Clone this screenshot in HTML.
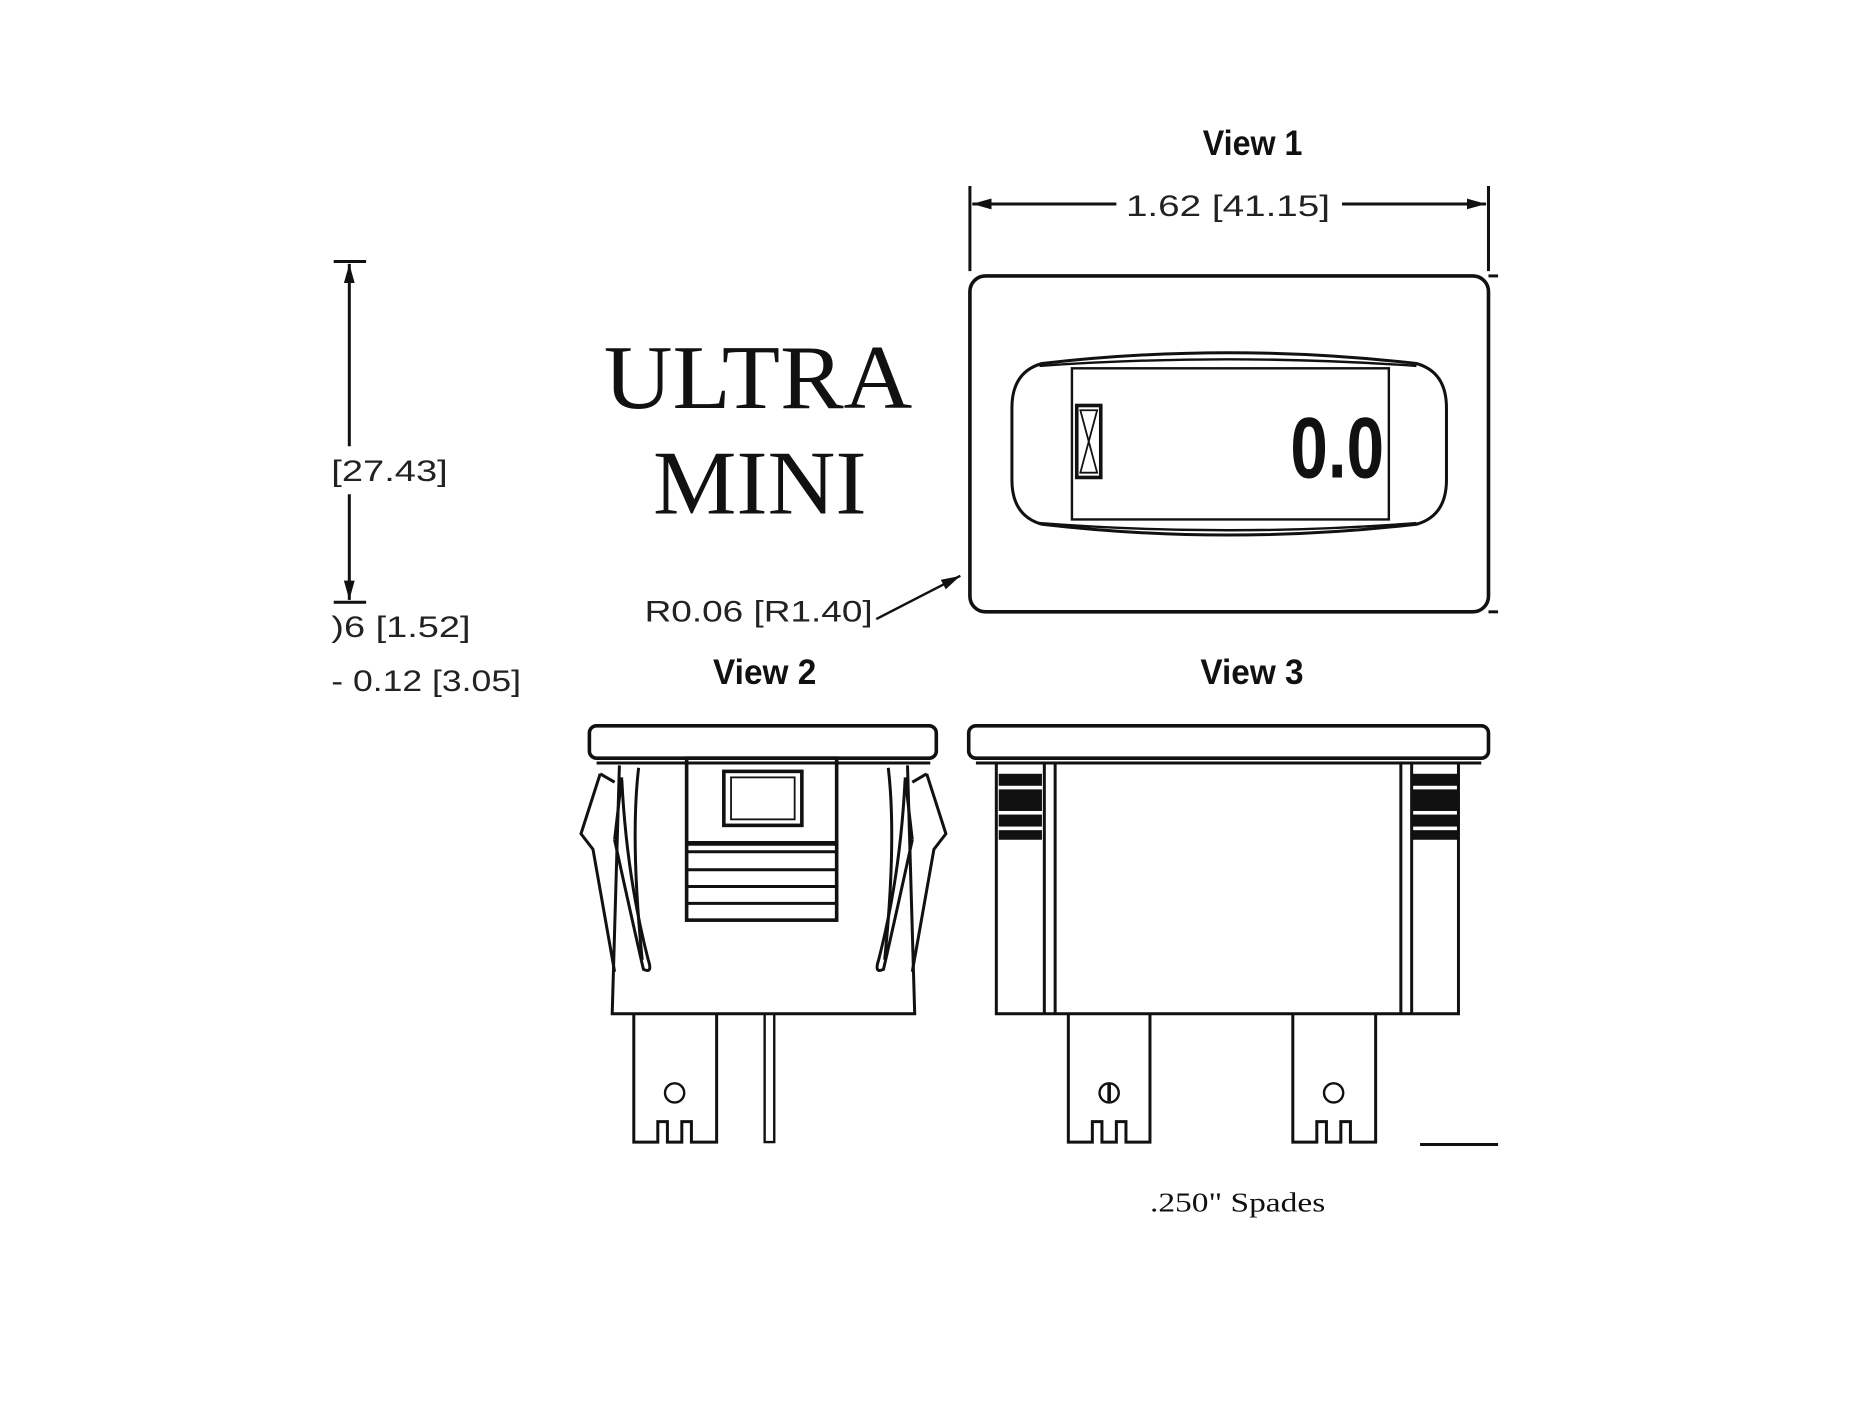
<!DOCTYPE html>
<html><head><meta charset="utf-8"><style>
html,body{margin:0;padding:0;background:#fff;width:1875px;height:1406px;overflow:hidden}
svg{display:block}
.d{font-family:"Liberation Sans Narrow","Liberation Sans",sans-serif;font-size:25px;fill:#222}
.v{font-family:"Liberation Sans Narrow","Liberation Sans",sans-serif;font-size:29px;font-weight:bold;fill:#111}
.s{font-family:"Liberation Serif",serif;fill:#111}
</style></head><body>
<svg width="1875" height="1406" viewBox="0 0 1562 1172" preserveAspectRatio="none" xmlns="http://www.w3.org/2000/svg">
<defs><marker id="a" markerWidth="16" markerHeight="9" refX="16" refY="4.5" orient="auto" markerUnits="userSpaceOnUse"><path d="M0,0 L16,4.5 L0,9z" fill="#111"/></marker></defs>
<g stroke="#111" stroke-width="2.5" fill="none">
<line x1="808" y1="155" x2="808" y2="226"/><line x1="1240" y1="155" x2="1240" y2="226"/>
<line x1="930" y1="170" x2="810" y2="170" marker-end="url(#a)"/>
<line x1="1118" y1="170" x2="1238" y2="170" marker-end="url(#a)"/>
<rect x="808" y="230" width="432" height="280" rx="13" stroke-width="3"/>
<line x1="1240" y1="230" x2="1248" y2="230"/><line x1="1240" y1="510" x2="1248" y2="510"/>
<path d="M868,303 Q1023,285 1180,303 Q1205,310 1205,340 L1205,400 Q1205,430 1180,437 Q1023,455 868,437 Q843,430 843,400 L843,340 Q843,310 868,303Z"/>
<path d="M866,305 Q1023,294 1180,305" stroke-width="2"/>
<path d="M866,436 Q1023,448 1180,436" stroke-width="2"/>
<rect x="893" y="307" width="264" height="126" stroke-width="2"/>
<rect x="897" y="338" width="20" height="60" stroke-width="3"/>
<path d="M900,342 L914,342 L907,368 L914,394 L900,394 L907,368Z" fill="none" stroke-width="1.5"/>
<line x1="278" y1="218" x2="305" y2="218"/><line x1="278" y1="502" x2="305" y2="502"/>
<line x1="291" y1="372" x2="291" y2="220" marker-end="url(#a)"/>
<line x1="291" y1="412" x2="291" y2="500" marker-end="url(#a)"/>
<line x1="730" y1="516" x2="800" y2="480" marker-end="url(#a)" stroke-width="2"/>
<rect x="491" y="605" width="289" height="27" rx="6" stroke-width="3"/>
<line x1="497" y1="636" x2="775" y2="636"/>
<path d="M516,638 L510,845 L762,845 L756,638"/>
<path d="M500,645 L484,695 L494,708 L512,810 M518,648 L512,700 M500,645 L512,652"/>
<path d="M518,650 Q522,730 540,800 Q544,812 536,808 Q525,760 512,700" />
<path d="M532,640 Q525,700 535,800"/>
<path d="M772,645 L788,695 L778,708 L760,810 M754,648 L760,700 M772,645 L760,652"/>
<path d="M754,650 Q750,730 732,800 Q728,812 736,808 Q747,760 760,700"/>
<path d="M740,640 Q747,700 737,800"/>
<rect x="572" y="632" width="125" height="135" stroke-width="3"/>
<rect x="603" y="643" width="65" height="45" stroke-width="3"/>
<rect x="609" y="648" width="53" height="35" stroke-width="1.5"/>
<line x1="572" y1="703" x2="697" y2="703" stroke-width="4"/>
<line x1="572" y1="710" x2="697" y2="710"/>
<line x1="572" y1="725" x2="697" y2="725"/><line x1="572" y1="739" x2="697" y2="739"/><line x1="572" y1="753" x2="697" y2="753"/>
<path d="M528,845 L528,952 L548,952 L548,935 L556,935 L556,952 L568,952 L568,935 L576,935 L576,952 L597,952 L597,845"/>
<circle cx="562" cy="911" r="8" stroke-width="2"/>
<rect x="637" y="845" width="8" height="107" stroke-width="2"/>
<rect x="807" y="605" width="433" height="27" rx="6" stroke-width="3"/>
<line x1="813" y1="636" x2="1234" y2="636"/>
<path d="M830,636 L830,845 L1215,845 L1215,636"/>
<line x1="870" y1="636" x2="870" y2="845"/><line x1="879" y1="636" x2="879" y2="845"/>
<line x1="1167" y1="636" x2="1167" y2="845"/><line x1="1176" y1="636" x2="1176" y2="845"/>
<path d="M890,845 L890,952 L910,952 L910,935 L918,935 L918,952 L930,952 L930,935 L938,935 L938,952 L958,952 L958,845"/>
<path d="M1077,845 L1077,952 L1097,952 L1097,935 L1105,935 L1105,952 L1117,952 L1117,935 L1125,935 L1125,952 L1146,952 L1146,845"/>
<circle cx="924" cy="911" r="8" stroke-width="2"/><line x1="924" y1="904" x2="924" y2="918" stroke-width="3"/>
<circle cx="1111" cy="911" r="8" stroke-width="2"/>
<line x1="1183" y1="954" x2="1248" y2="954"/>
</g>
<g fill="#111">
<rect x="832" y="645" width="36" height="10"/><rect x="832" y="658" width="36" height="18"/><rect x="832" y="679" width="36" height="10"/><rect x="832" y="692" width="36" height="8"/>
<rect x="1177" y="645" width="37" height="10"/><rect x="1177" y="658" width="37" height="18"/><rect x="1177" y="679" width="37" height="10"/><rect x="1177" y="692" width="37" height="8"/>
</g>
<text x="1002" y="129" class="v" textLength="83" lengthAdjust="spacingAndGlyphs">View 1</text>
<text x="938" y="180" class="d" textLength="170" lengthAdjust="spacingAndGlyphs">1.62  [41.15]</text>
<text x="1075" y="398" textLength="78" lengthAdjust="spacingAndGlyphs" style="font-family:'Liberation Sans',sans-serif;font-weight:bold;font-size:72px;fill:#111">0.0</text>
<text x="503" y="340" class="s" font-size="76" textLength="257" lengthAdjust="spacingAndGlyphs">ULTRA</text>
<text x="544" y="428" class="s" font-size="76" textLength="178" lengthAdjust="spacingAndGlyphs">MINI</text>
<text x="537" y="518" class="d" textLength="190" lengthAdjust="spacingAndGlyphs">R0.06  [R1.40]</text>
<text x="276" y="401" class="d" textLength="97" lengthAdjust="spacingAndGlyphs">[27.43]</text>
<text x="276" y="531" class="d" textLength="116" lengthAdjust="spacingAndGlyphs">)6  [1.52]</text>
<text x="276" y="576" class="d" textLength="158" lengthAdjust="spacingAndGlyphs">- 0.12  [3.05]</text>
<text x="594" y="570" class="v" textLength="86" lengthAdjust="spacingAndGlyphs">View 2</text>
<text x="1000" y="570" class="v" textLength="86" lengthAdjust="spacingAndGlyphs">View 3</text>
<text x="958" y="1010" class="s" font-size="23" textLength="146" lengthAdjust="spacingAndGlyphs">.250" Spades</text>
</svg>
</body></html>
